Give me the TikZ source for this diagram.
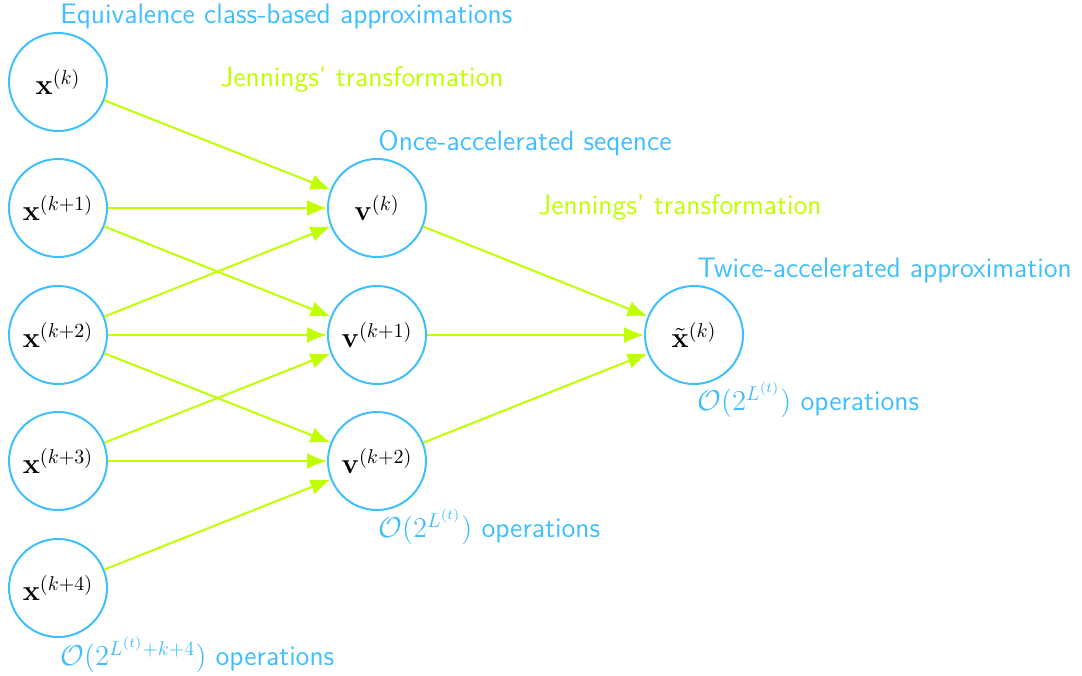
\documentclass[tikz,border=0pt]{standalone}
\usetikzlibrary{arrows.meta}
\definecolor{nblue}{HTML}{40BFFF}
\definecolor{lime}{HTML}{BFFF00}
\begin{document}
\begin{tikzpicture}[x=0.5pt,y=-0.5pt,
  nd/.style={circle,draw=nblue,line width=1pt,minimum size=49pt,inner sep=0pt,font=\fontsize{14}{16}\selectfont},
  lbl/.style={anchor=west,text=nblue,font=\sffamily\fontsize{14.1}{16}\selectfont,inner sep=0pt},
  jlbl/.style={anchor=west,text=lime,font=\sffamily\fontsize{14.1}{16}\selectfont,inner sep=0pt},
  arr/.style={draw=lime,line width=1pt,-{Latex[length=10pt,width=8pt]}}]
\useasboundingbox (0,0) rectangle (1082,675);
\node[nd] (x0) at (58,82) {$\mathbf{x}^{(k)}$};
\node[nd] (x1) at (58,208) {$\mathbf{x}^{(k+1)}$};
\node[nd] (x2) at (58,335) {$\mathbf{x}^{(k+2)}$};
\node[nd] (x3) at (58,461) {$\mathbf{x}^{(k+3)}$};
\node[nd] (x4) at (58,588) {$\mathbf{x}^{(k+4)}$};
\node[nd] (v0) at (377,208) {$\mathbf{v}^{(k)}$};
\node[nd] (v1) at (377,335) {$\mathbf{v}^{(k+1)}$};
\node[nd] (v2) at (377,461) {$\mathbf{v}^{(k+2)}$};
\node[nd] (t) at (694,335) {$\tilde{\mathbf{x}}^{(k)}$};
\node[lbl] (l1) at (60,16) {Equivalence class-based approximations};
\node[jlbl] (j1) at (220,79) {Jennings' transformation};
\node[lbl] (l2) at (378,143) {Once-accelerated seqence};
\node[jlbl] (j2) at (538,207) {Jennings' transformation};
\node[lbl] (l3) at (697,270) {Twice-accelerated approximation};
\node[lbl] (o1) at (60,655) {$\mathcal{O}(2^{L^{(t)}+k+4})$ operations};
\node[lbl] (o2) at (378,527) {$\mathcal{O}(2^{L^{(t)}})$ operations};
\node[lbl] (o3) at (697,400) {$\mathcal{O}(2^{L^{(t)}})$ operations};
\draw[arr] (x0) -- (v0);
\draw[arr] (x1) -- (v0);
\draw[arr] (x1) -- (v1);
\draw[arr] (x2) -- (v0);
\draw[arr] (x2) -- (v1);
\draw[arr] (x2) -- (v2);
\draw[arr] (x3) -- (v1);
\draw[arr] (x3) -- (v2);
\draw[arr] (x4) -- (v2);
\draw[arr] (v0) -- (t);
\draw[arr] (v1) -- (t);
\draw[arr] (v2) -- (t);
\end{tikzpicture}
\end{document}
